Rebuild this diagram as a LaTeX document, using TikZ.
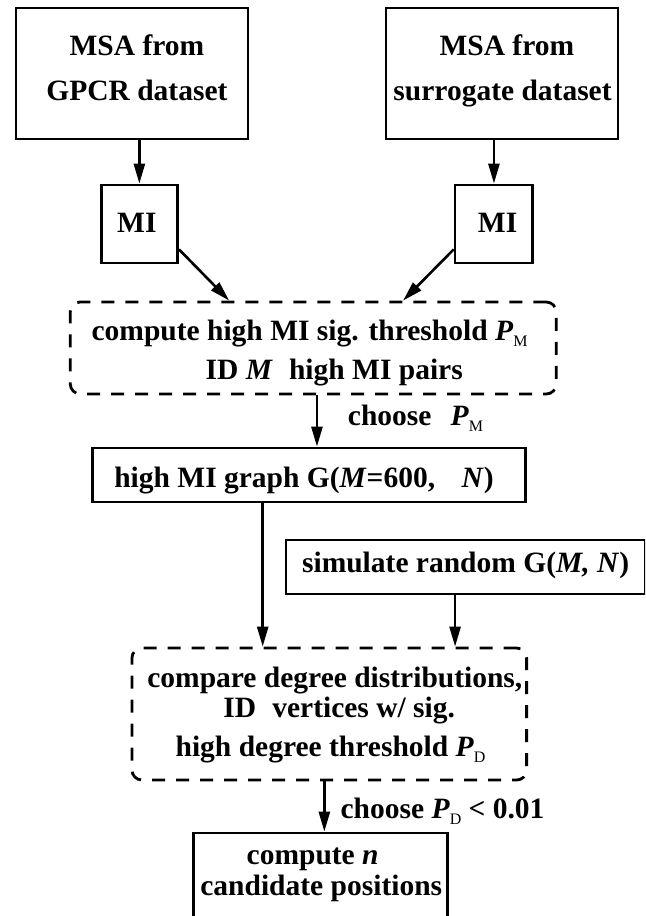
\documentclass[tikz,border=0pt]{standalone}
\usepackage{fontspec}
\setmainfont{Liberation Serif}
\usetikzlibrary{arrows.meta,calc}
% small lowered subscript used for P_M and P_D
\newcommand\lowsub[1]{\raisebox{-6pt}{\mdseries\fontsize{16}{16}\selectfont #1}}
\begin{document}
\begin{tikzpicture}[x=1.2333pt,y=-1pt,
  box/.style={draw, line width=2.8pt, inner sep=0pt},
  dbox/.style={draw, line width=2.8pt, dash pattern=on 13pt off 11pt, rounded corners=10pt, inner sep=0pt},
  arr/.style={line width=2.6pt, -{Triangle[length=20pt,width=11pt]}},
  txt/.style={anchor=base, inner sep=0pt, font=\bfseries\fontsize{29.5}{34}\selectfont}]
\path[use as bounding box, clip] (0,0) rectangle (523,916);

% boxes
\node[box, minimum width=231.9pt, minimum height=131pt] (gpcr) at (107,73.5) {};
\node[box, minimum width=231.9pt, minimum height=131pt] (surr) at (407,73.5) {};
\node[box, minimum width=76.5pt, minimum height=78pt] (mi1) at (113,224) {};
\node[box, minimum width=77.7pt, minimum height=78pt] (mi2) at (400.5,224) {};
\node[dbox, minimum width=486pt, minimum height=92pt] (thr) at (254,348) {};
\node[box, minimum width=433pt, minimum height=54pt] (graph) at (250.5,475) {};
\node[box, minimum width=359pt, minimum height=54pt] (sim) at (377.5,567) {};
\node[dbox, minimum width=394.7pt, minimum height=132pt] (cmp) at (267,714) {};
\node[box, minimum width=254pt, minimum height=110pt] (cand) at (260,888) {};

% texts
\node[txt] (t1a) at (111,55) {MSA from};
\node[txt] (t1b) at (111,100) {GPCR dataset};
\node[txt] (t2a) at (411,55) {MSA from};
\node[txt] (t2b) at (407.5,100) {surrogate dataset};
\node[txt] (t3) at (111,232) {MI};
\node[txt] (t4) at (403.5,232) {MI};
\node[txt] (t5a) at (251,340) {compute high MI sig. threshold \textit{P}\lowsub{M}};
\node[txt] (t5b) at (271,379) {ID \textit{M}\hspace{0.3em} high MI pairs};
\node[txt, anchor=base west] (l1) at (282,425) {choose\hspace{0.4em} \textit{P}\lowsub{M}};
\node[txt] (t6) at (246.5,487) {high MI graph G(\textit{M}=600,\hspace{0.9em}\textit{N})};
\node[txt] (t7) at (377.5,572) {simulate random G(\textit{M, N})};
\node[txt] (t8a) at (271.5,687) {compare degree distributions,};
\node[txt] (t8b) at (275,717) {ID\hspace{0.3em} vertices w/ sig.};
\node[txt] (t8c) at (268,756) {high degree threshold \textit{P}\lowsub{D}};
\node[txt, anchor=base west] (l2) at (276,818) {choose \textit{P}\lowsub{D} < 0.01};
\node[txt] (t9a) at (253.5,864) {compute \textit{n}};
\node[txt] (t9b) at (260.5,895) {candidate positions};

% connectors
\draw[arr] (mi1.north |- gpcr.south) -- (mi1.north);
\draw[arr] (mi2.north |- surr.south) -- (mi2.north);
\draw[arr] ($(mi1.south east)+(0,-15)$) -- ($(thr.north west)+(130,0)$);
\draw[arr] ($(mi2.south west)+(0,-15)$) -- ($(thr.north west)+(271,0)$);
\draw[arr] ($(thr.south)+(3,0)$) -- ($(graph.north)+(6.5,0)$);
\draw[arr] ($(graph.south)+(-37.5,0)$) -- ($(cmp.north)+(-54,0)$);
\draw[arr] ($(sim.south)+(-8.5,0)$) -- ($(cmp.north)+(102,0)$);
\draw[arr] ($(cmp.south)+(-4,0)$) -- ($(cand.north)+(3,0)$);
\end{tikzpicture}
\end{document}
